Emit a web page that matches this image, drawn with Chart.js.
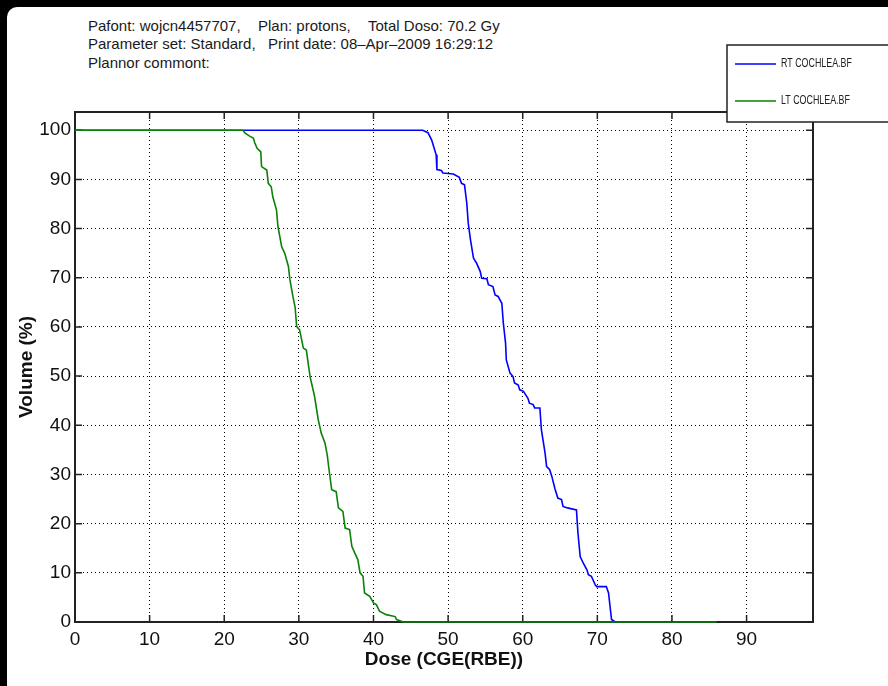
<!DOCTYPE html>
<html>
<head>
<meta charset="utf-8">
<script src="https://cdn.jsdelivr.net/npm/chart.js@4.4.0/dist/chart.umd.min.js"></script>
<style>
  html, body { margin: 0; padding: 0; background: #000; }
  body { width: 888px; height: 686px; overflow: hidden; position: relative; font-family: "Liberation Sans", Arial, sans-serif; }
  #paper { position: absolute; left: 7px; top: 7px; width: 881px; height: 679px; background: #fff; border-top-left-radius: 10px; }
  .hdr { position: absolute; font-size: 15px; line-height: 15px; color: #1a1a1a; white-space: pre; }
  #c { position: absolute; left: 0; top: 0; }
</style>
</head>
<body>
<div id="paper"></div>
<div class="hdr" style="left:88px;top:18px">Pafont: wojcn4457707,</div>
<div class="hdr" style="left:258px;top:18px">Plan: protons,</div>
<div class="hdr" style="left:368px;top:18px">Total Doso: 70.2 Gy</div>
<div class="hdr" style="left:88px;top:36px">Parameter set: Standard,</div>
<div class="hdr" style="left:268px;top:36px">Print date: 08–Apr–2009 16:29:12</div>
<div class="hdr" style="left:88px;top:55px">Plannor commont:</div>
<canvas id="c" width="888" height="686"></canvas>
<script>
// cumulative DVH
const seriesLabels = ['RT COCHLEA.BF', 'LT COCHLEA.BF'];

const rtDose = [0, 46.6, 47.3, 47.8, 48.0, 48.4, 48.5, 49.1, 49.3, 50.7, 51.5, 51.8, 52.2, 52.5, 52.7, 53.0, 53.4,
  53.8, 54.3, 54.5, 55.2, 55.4, 56.0, 56.3, 56.7, 57.2, 57.4, 57.7, 57.8, 58.3, 58.7, 58.9, 59.4, 59.6, 60.1,
  60.7, 60.9, 61.4, 61.6, 62.3, 62.5, 63.0, 63.2, 63.6, 63.9, 64.3, 64.7, 65.2, 65.4, 66.0, 67.2, 67.4, 67.7,
  68.1, 68.6, 68.8, 69.2, 69.7, 69.9, 71.2, 71.5, 71.7, 71.9, 72.4];
const rtVolume = [100, 100, 99.5, 98.0, 97.0, 95.0, 92.0, 91.8, 91.3, 91.1, 90.4, 89.2, 88.9, 85.2, 81.1, 77.7, 74.0,
  73.0, 71.3, 69.9, 69.8, 68.6, 68.2, 66.5, 66.2, 64.8, 60.8, 56.7, 53.3, 50.6, 49.9, 48.6, 48.2, 47.2, 46.9,
  45.5, 44.5, 44.2, 43.5, 43.5, 39.1, 34.3, 31.6, 31.0, 29.6, 27.2, 25.2, 24.9, 23.5, 23.2, 22.8, 18.1, 13.3,
  12.0, 10.6, 9.6, 9.3, 7.6, 7.2, 7.2, 5.9, 3.2, 0.5, 0];

const ltDose = [0, 22.5, 22.8, 23.4, 23.9, 24.1, 24.4, 24.9, 25.0, 25.7, 25.9, 26.3, 26.5, 27.0, 27.2, 27.7, 28.1,
  28.6, 28.8, 29.2, 29.5, 29.7, 30.1, 30.6, 31.0, 31.5, 32.1, 32.6, 33.0, 33.5, 33.8, 34.1, 34.4, 35.0, 35.3,
  35.9, 36.2, 36.8, 37.1, 37.5, 37.9, 38.2, 38.6, 38.8, 39.5, 40.0, 40.4, 40.8, 41.7, 42.9, 43.1, 44.0, 86.0];
const ltVolume = [100, 100, 99.4, 98.8, 98.4, 97.4, 96.3, 95.6, 92.6, 91.9, 89.2, 88.5, 86.5, 83.8, 80.4, 76.3, 75.0,
  72.3, 69.6, 66.2, 64.0, 60.1, 59.4, 55.7, 55.3, 49.9, 45.9, 41.1, 38.4, 36.4, 34.0, 30.3, 26.9, 26.5, 23.2,
  22.5, 19.1, 18.8, 15.4, 14.0, 12.7, 10.0, 9.3, 5.9, 5.2, 3.9, 3.5, 2.2, 1.5, 1.1, 0.5, 0, 0];

const xTicks = [0, 10, 20, 30, 40, 50, 60, 70, 80, 90];
const yTicks = [0, 10, 20, 30, 40, 50, 60, 70, 80, 90, 100];

const toPoints = (xs, ys) => xs.map((x, i) => ({ x: x, y: ys[i] }));

// axes box + inward tick marks, matlab style
const boxPlugin = {
  id: 'box',
  beforeDatasetsDraw(chart) {
    const { ctx, chartArea: a, scales } = chart;
    ctx.save();
    ctx.strokeStyle = '#222';
    ctx.lineWidth = 1.5;
    ctx.beginPath();
    scales.x.ticks.forEach(t => {
      const px = scales.x.getPixelForValue(t.value);
      ctx.moveTo(px, a.bottom); ctx.lineTo(px, a.bottom - 7);
      ctx.moveTo(px, a.top); ctx.lineTo(px, a.top + 7);
    });
    scales.y.ticks.forEach(t => {
      const py = scales.y.getPixelForValue(t.value);
      ctx.moveTo(a.left, py); ctx.lineTo(a.left + 7, py);
      ctx.moveTo(a.right, py); ctx.lineTo(a.right - 7, py);
    });
    ctx.stroke();
    ctx.lineWidth = 2;
    ctx.strokeRect(a.left, a.top, a.right - a.left, a.bottom - a.top);
    ctx.restore();
  }
};

// legend box hanging over the top right corner
const legendPlugin = {
  id: 'boxLegend',
  afterDraw(chart) {
    const ctx = chart.ctx;
    ctx.save();
    ctx.fillStyle = '#fff';
    ctx.fillRect(727, 45, 170, 77);
    ctx.strokeStyle = '#222';
    ctx.lineWidth = 1.5;
    ctx.strokeRect(727, 45, 170, 77);
    ctx.textBaseline = 'middle';
    chart.data.datasets.forEach((ds, i) => {
      const y = i === 0 ? 64 : 101;
      ctx.strokeStyle = ds.borderColor;
      ctx.lineWidth = 1.5;
      ctx.beginPath();
      ctx.moveTo(735, y); ctx.lineTo(776, y);
      ctx.stroke();
      // squeezed text like the printout
      ctx.save();
      ctx.translate(781, y);
      ctx.scale(0.74, 1);
      ctx.font = '12px "Liberation Sans", Arial, sans-serif';
      ctx.fillStyle = '#222';
      ctx.fillText(ds.label, 0, 0);
      ctx.restore();
    });
    ctx.restore();
  }
};

const gridStyle = { color: '#000', lineWidth: 1, drawTicks: false };
const borderStyle = { display: false, dash: [1, 3] };

new Chart(document.getElementById('c'), {
  type: 'line',
  data: {
    datasets: [
      { label: seriesLabels[0], data: toPoints(rtDose, rtVolume), borderColor: '#0000ff', borderWidth: 1.6, pointRadius: 0, order: 2, clip: false },
      { label: seriesLabels[1], data: toPoints(ltDose, ltVolume), borderColor: '#0a820a', borderWidth: 1.6, pointRadius: 0, order: 1, clip: false }
    ]
  },
  options: {
    responsive: false,
    animation: false,
    layout: { padding: { left: 0, right: 75, top: 112, bottom: 0 } },
    plugins: { legend: { display: false }, tooltip: { enabled: false } },
    scales: {
      x: {
        type: 'linear', min: 0, max: 98.9,
        afterBuildTicks: s => { s.ticks = xTicks.map(v => ({ value: v })); },
        afterFit: s => { s.height = 64; },
        grid: gridStyle, border: borderStyle,
        ticks: { color: '#111', padding: 6, maxRotation: 0, font: { family: '"Liberation Sans", Arial', size: 19 } },
        title: { display: true, text: 'Dose (CGE(RBE))', color: '#111', padding: { top: 0, bottom: 15 },
                 font: { family: '"Liberation Sans", Arial', size: 19, weight: 'bold' } }
      },
      y: {
        type: 'linear', min: 0, max: 103.7,
        afterBuildTicks: s => { s.ticks = yTicks.map(v => ({ value: v })); },
        afterFit: s => { s.width = 75; },
        grid: gridStyle, border: borderStyle,
        ticks: { color: '#111', padding: 4, font: { family: '"Liberation Sans", Arial', size: 19 } },
        title: { display: true, text: 'Volume (%)', color: '#111', padding: { top: 15, bottom: 0 },
                 font: { family: '"Liberation Sans", Arial', size: 19, weight: 'bold' } }
      }
    }
  },
  plugins: [boxPlugin, legendPlugin]
});
</script>
</body>
</html>
